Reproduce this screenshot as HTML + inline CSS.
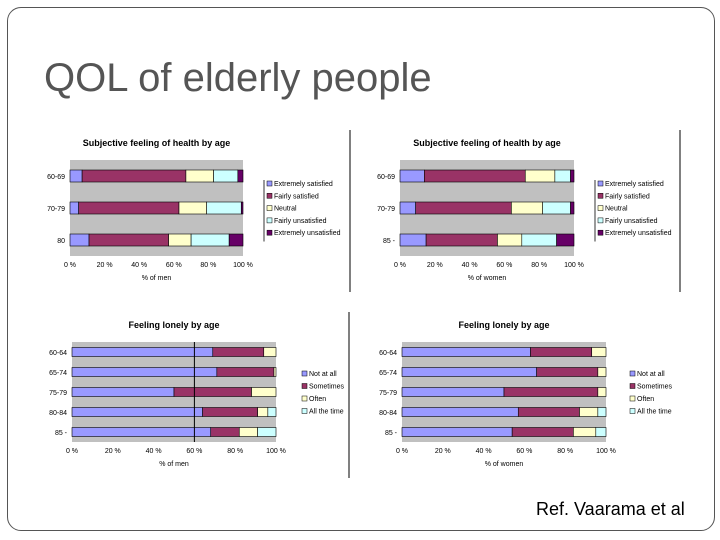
<!DOCTYPE html>
<html><head><meta charset="utf-8"><style>
body{margin:0;background:#fff;}
#slide{position:relative;width:720px;height:540px;overflow:hidden;font-family:"Liberation Sans",sans-serif;}
#frame{position:absolute;left:7px;top:7px;width:706px;height:522px;border:1px solid #555;border-radius:14px;}
#title{position:absolute;left:44px;top:56px;font-size:40px;color:#555;}
#ref{position:absolute;left:536px;top:499px;font-size:18px;color:#000;}
svg{position:absolute;left:0;top:0;}
</style></head><body>
<div id="slide">
<div id="frame"></div>
<div id="title">QOL of elderly people</div>
<div id="ref">Ref. Vaarama et al</div>
<svg id="chart" width="720" height="540"></svg>
</div>
<script>
const healthLabels=["Extremely satisfied","Fairly satisfied","Neutral","Fairly unsatisfied","Extremely unsatisfied"];
const healthCats=["60-69","70-79","80"];
const healthCatsW=["60-69","70-79","85 -"];
const menHealth=[[7,60,16,14,3],[5,58,16,20,1],[11,46,13,22,8]];
const womenHealth=[[14,58,17,9,2],[9,55,18,16,2],[15,41,14,20,10]];
const lonelyLabels=["Not at all","Sometimes","Often","All the time"];
const lonelyLabelsW=["Not at all","Sometimes","Often","All the time"];
const lonelyCats=["60-64","65-74","75-79","80-84","85 -"];
const menLonely=[[69,25,6,0],[71,28,1,0],[50,38,12,0],[64,27,5,4],[68,14,9,9]];
const womenLonely=[[63,30,7,0],[66,30,4,0],[50,46,4,0],[57,30,9,4],[54,30,11,5]];
const xTicks=["0 %","20 %","40 %","60 %","80 %","100 %"];
const healthColors=["#9999ff","#993366","#ffffcc","#ccffff","#660066"];
const lonelyColors=["#9999ff","#993366","#ffffcc","#ccffff"];
const NS="http://www.w3.org/2000/svg";
const svg=document.getElementById('chart');
function mk(tag,attrs,parent){const e=document.createElementNS(NS,tag);for(const k in attrs)e.setAttribute(k,attrs[k]);(parent||svg).appendChild(e);return e;}
function chart(o){
  const g=mk('g',{});
  
  
  const t=mk('text',{x:(o.x0+o.x1)/2,y:o.ty,'text-anchor':'middle','font-size':9,'font-weight':'bold',fill:'#000'},g);t.textContent=o.title;
  
  const bg=mk('rect',{x:o.x0,y:o.y0,width:o.x1-o.x0,height:o.y1-o.y0,fill:'#c0c0c0'},g);
  
  const xs=v=>o.x0+(o.x1-o.x0)*v/100;
  const n=o.cats.length, band=(o.y1-o.y0)/n;
  o.data.forEach((row,i)=>{
    const cy=o.y0+band*(i+0.5), h=o.bh;
    let acc=0;
    row.forEach((v,j)=>{
      if(v<=0){return;}
      const r=mk('rect',{x:xs(acc),y:cy-h/2,width:xs(acc+v)-xs(acc),height:h,fill:o.colors[j],stroke:'#000','stroke-width':0.6},g);
      
      
      acc+=v;
    });
    const c=mk('text',{x:o.x0-5,y:cy+3,'text-anchor':'end','font-size':7,fill:'#000'},g);c.textContent=o.cats[i];
    
  });
  if(o.vline!=null){mk('line',{x1:xs(o.vline),x2:xs(o.vline),y1:o.y0,y2:o.y1,stroke:'#000','stroke-width':1},g);}
  xTicks.forEach((s,i)=>{const tx=mk('text',{x:xs(i*20),y:o.y1+11,'text-anchor':'middle','font-size':7,fill:'#000'},g);tx.textContent=s;
    });
  const at=mk('text',{x:(o.x0+o.x1)/2,y:o.y1+24,'text-anchor':'middle','font-size':7,fill:'#000'},g);at.textContent=o.axis;
  
  const lg=mk('g',{},g);
  if(o.legLine)mk('line',{x1:o.lx-3,x2:o.lx-3,y1:o.ly-6,y2:o.ly+o.labels.length*o.lstep-6,stroke:'#000','stroke-width':0.8},lg);
  o.labels.forEach((s,i)=>{const y=o.ly+i*o.lstep;
    mk('rect',{x:o.lx,y:y-5,width:5,height:5,fill:o.colors[i],stroke:'#000','stroke-width':0.5},lg);
    const lt=mk('text',{x:o.lx+7,y:y,'font-size':7,fill:'#000'},lg);lt.textContent=s;
    });
}
chart({name:'men-health-chart',title:'Subjective feeling of health by age',ty:146,x0:70,x1:243,y0:160,y1:256,bh:12,cats:healthCats,data:menHealth,colors:healthColors,axis:'% of men',labels:healthLabels,lx:267,ly:186,lstep:12.3,legLine:true});
chart({name:'women-health-chart',title:'Subjective feeling of health by age',ty:146,x0:400,x1:574,y0:160,y1:256,bh:12,cats:healthCatsW,data:womenHealth,colors:healthColors,axis:'% of women',labels:healthLabels,lx:598,ly:186,lstep:12.3,legLine:true});
chart({name:'men-lonely-chart',title:'Feeling lonely by age',ty:328,x0:72,x1:276,y0:342,y1:442,bh:9,cats:lonelyCats,data:menLonely,colors:lonelyColors,axis:'% of men',labels:lonelyLabels,lx:302,ly:376,lstep:12.5,vline:60});
chart({name:'women-lonely-chart',title:'Feeling lonely by age',ty:328,x0:402,x1:606,y0:342,y1:442,bh:9,cats:lonelyCats,data:womenLonely,colors:lonelyColors,axis:'% of women',labels:lonelyLabelsW,lx:630,ly:376,lstep:12.5});
[[350,130,292],[680,130,292],[349,312,478]].forEach(a=>{const l=mk('line',{x1:a[0],x2:a[0],y1:a[1],y2:a[2],stroke:'#000','stroke-width':1});
  
  });
</script>
</body></html>
